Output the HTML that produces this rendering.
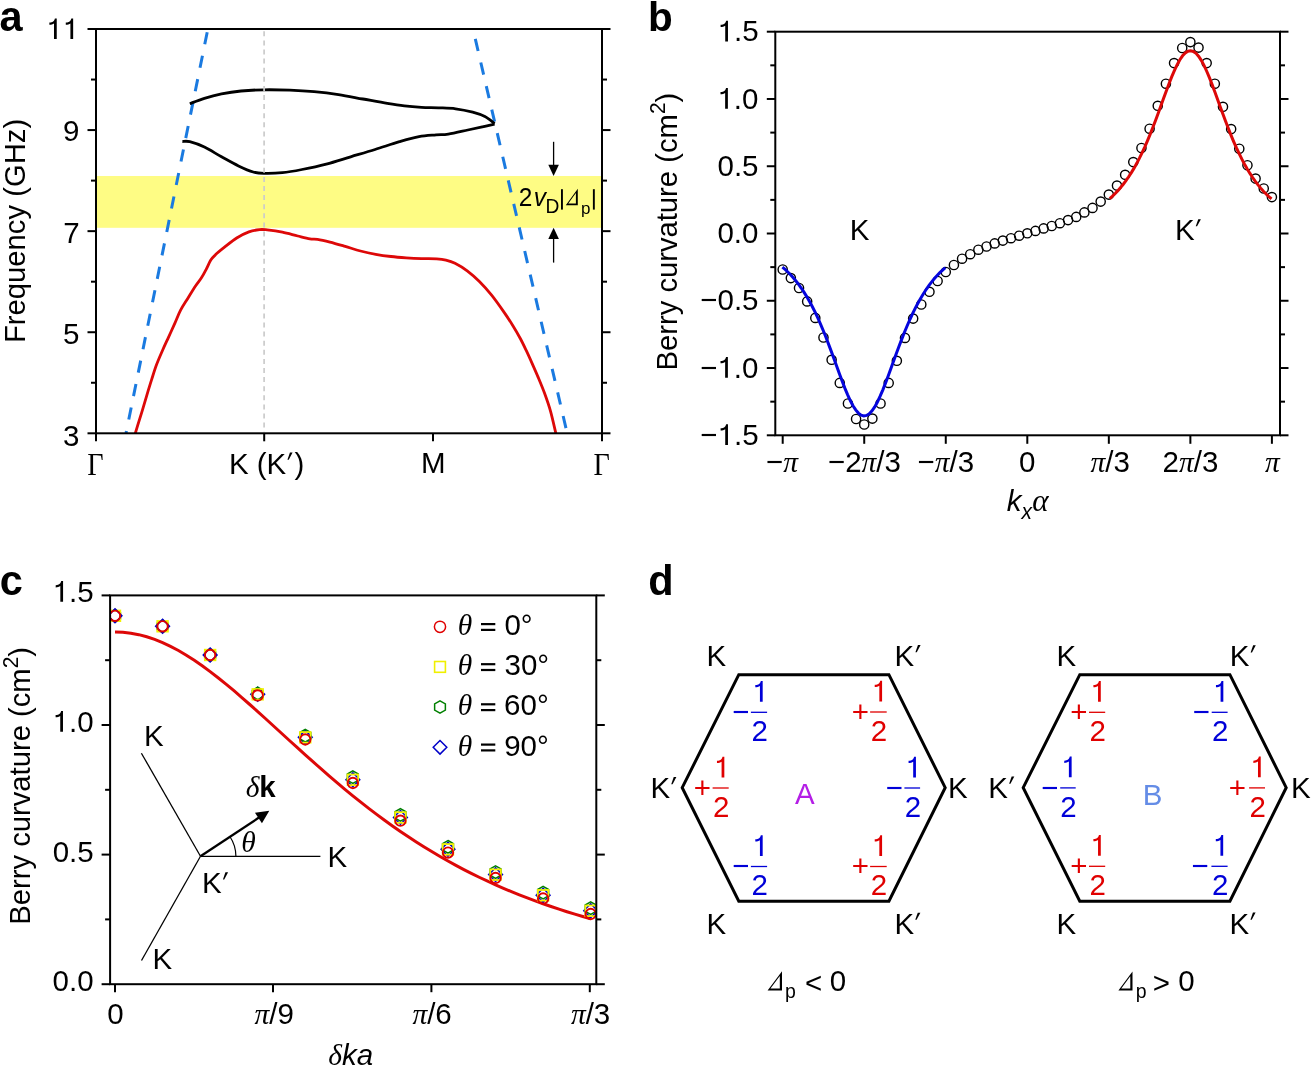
<!DOCTYPE html>
<html><head><meta charset="utf-8"><style>html,body{margin:0;padding:0;background:#fff;width:1312px;height:1067px;overflow:hidden}svg{display:block;will-change:transform;white-space:pre;font-family:"Liberation Sans",sans-serif;font-kerning:none}text{font-kerning:none;white-space:pre}</style></head><body>
<svg width="1312" height="1067" viewBox="0 0 1312 1067" stroke-linecap="butt" xml:space="preserve">
<rect width="1312" height="1067" fill="#fff"/>
<text transform="translate(-0.47,30.60) scale(1.0,1.02)" x="0" y="0" font-size="41.5" font-weight="bold" fill="#000">a</text>
<rect x="96" y="176" width="506" height="51.8" fill="#fefc84"/>
<line x1="207.20" y1="32.25" x2="126.05" y2="433.00" stroke="#1a7ae0" stroke-width="3" stroke-dasharray="12.3,11.63"/>
<line x1="475.30" y1="38.90" x2="567.10" y2="433.00" stroke="#1a7ae0" stroke-width="3" stroke-dasharray="12.4,11.8"/>
<path d="M189.80,103.70 C192.23,102.80 199.12,99.93 204.40,98.30 C209.68,96.67 215.40,95.12 221.50,93.90 C227.60,92.68 233.90,91.68 241.00,91.00 C248.10,90.32 255.97,89.93 264.10,89.80 C272.23,89.67 281.47,89.88 289.80,90.20 C298.13,90.52 305.98,90.97 314.10,91.70 C322.22,92.43 330.37,93.38 338.50,94.60 C346.63,95.82 354.77,97.53 362.90,99.00 C371.03,100.47 380.38,102.25 387.30,103.40 C394.22,104.55 398.70,105.25 404.40,105.90 C410.10,106.55 415.82,106.98 421.50,107.30 C427.18,107.62 432.82,107.55 438.50,107.80 C444.18,108.05 449.90,108.07 455.60,108.80 C461.30,109.53 467.82,110.90 472.70,112.20 C477.58,113.50 481.25,114.70 484.90,116.60 C488.55,118.50 492.98,122.43 494.60,123.60" stroke="#000" stroke-width="2.8" fill="none"/>
<path d="M182.40,141.50 C183.63,141.53 186.13,140.77 189.80,141.70 C193.47,142.63 199.12,144.58 204.40,147.10 C209.68,149.62 215.82,153.67 221.50,156.80 C227.18,159.93 233.22,163.37 238.50,165.90 C243.78,168.43 248.93,170.75 253.20,172.00 C257.47,173.25 259.23,173.28 264.10,173.40 C268.97,173.52 276.08,173.35 282.40,172.70 C288.72,172.05 294.68,170.93 302.00,169.50 C309.32,168.07 318.18,166.22 326.30,164.10 C334.42,161.98 342.57,159.23 350.70,156.80 C358.83,154.37 366.97,152.02 375.10,149.50 C383.23,146.98 392.18,143.85 399.50,141.70 C406.82,139.55 412.90,137.73 419.00,136.60 C425.10,135.47 431.22,135.32 436.10,134.90 C440.98,134.48 443.02,134.92 448.30,134.10 C453.58,133.28 462.12,131.22 467.80,130.00 C473.48,128.78 477.93,127.77 482.40,126.80 C486.87,125.83 492.57,124.63 494.60,124.20" stroke="#000" stroke-width="2.8" fill="none"/>
<path d="M135.20,433.60 C135.72,431.88 137.08,427.25 138.30,423.30 C139.52,419.35 141.08,414.57 142.50,409.90 C143.92,405.23 145.27,400.38 146.80,395.30 C148.33,390.22 150.08,384.48 151.70,379.40 C153.32,374.32 154.68,369.67 156.50,364.80 C158.32,359.93 160.57,354.87 162.60,350.20 C164.63,345.53 166.67,341.27 168.70,336.80 C170.73,332.33 172.82,327.83 174.80,323.40 C176.78,318.97 178.42,314.40 180.60,310.20 C182.78,306.00 185.42,302.23 187.90,298.20 C190.38,294.17 193.22,289.43 195.50,286.00 C197.78,282.57 199.82,280.38 201.60,277.60 C203.38,274.82 204.67,272.22 206.20,269.30 C207.73,266.38 209.27,262.52 210.80,260.10 C212.33,257.68 213.12,256.95 215.40,254.80 C217.68,252.65 220.95,250.00 224.50,247.20 C228.05,244.40 232.63,240.55 236.70,238.00 C240.77,235.45 245.08,233.30 248.90,231.90 C252.72,230.50 256.55,229.93 259.60,229.60 C262.65,229.27 263.40,229.47 267.20,229.90 C271.00,230.33 277.32,231.18 282.40,232.20 C287.48,233.22 293.12,234.90 297.70,236.00 C302.28,237.10 306.60,238.25 309.90,238.80 C313.20,239.35 314.15,238.75 317.50,239.30 C320.85,239.85 325.38,240.92 330.00,242.10 C334.62,243.28 340.12,244.92 345.20,246.40 C350.28,247.88 355.42,249.68 360.50,251.00 C365.58,252.32 370.62,253.38 375.70,254.30 C380.78,255.22 385.92,255.92 391.00,256.50 C396.08,257.08 401.12,257.45 406.20,257.80 C411.28,258.15 416.42,258.42 421.50,258.60 C426.58,258.78 432.63,258.65 436.70,258.90 C440.77,259.15 442.85,259.38 445.90,260.10 C448.95,260.82 451.45,261.42 455.00,263.20 C458.55,264.98 463.13,267.75 467.20,270.80 C471.27,273.85 475.33,277.43 479.40,281.50 C483.47,285.57 487.53,290.13 491.60,295.20 C495.67,300.27 500.25,306.82 503.80,311.90 C507.35,316.98 510.15,321.27 512.90,325.70 C515.65,330.13 518.10,334.42 520.30,338.50 C522.50,342.58 524.12,346.02 526.10,350.20 C528.08,354.38 530.17,359.03 532.20,363.60 C534.23,368.17 536.27,372.73 538.30,377.60 C540.33,382.47 542.37,387.22 544.40,392.80 C546.43,398.38 548.58,404.30 550.50,411.10 C552.42,417.90 555.00,429.85 555.90,433.60" stroke="#dd0808" stroke-width="2.8" fill="none"/>
<line x1="264.10" y1="31.30" x2="264.10" y2="432.30" stroke="#cbcbcb" stroke-width="1.7" stroke-dasharray="5.0,4.1"/>
<rect x="96" y="29" width="506" height="404.3" fill="none" stroke="#000" stroke-width="2"/>
<line x1="87.50" y1="433.30" x2="96.00" y2="433.30" stroke="#000" stroke-width="2"/>
<line x1="602.00" y1="433.30" x2="610.50" y2="433.30" stroke="#000" stroke-width="2"/>
<line x1="91.00" y1="382.76" x2="96.00" y2="382.76" stroke="#000" stroke-width="2"/>
<line x1="602.00" y1="382.76" x2="607.00" y2="382.76" stroke="#000" stroke-width="2"/>
<line x1="87.50" y1="332.23" x2="96.00" y2="332.23" stroke="#000" stroke-width="2"/>
<line x1="602.00" y1="332.23" x2="610.50" y2="332.23" stroke="#000" stroke-width="2"/>
<line x1="91.00" y1="281.69" x2="96.00" y2="281.69" stroke="#000" stroke-width="2"/>
<line x1="602.00" y1="281.69" x2="607.00" y2="281.69" stroke="#000" stroke-width="2"/>
<line x1="87.50" y1="231.15" x2="96.00" y2="231.15" stroke="#000" stroke-width="2"/>
<line x1="602.00" y1="231.15" x2="610.50" y2="231.15" stroke="#000" stroke-width="2"/>
<line x1="91.00" y1="180.61" x2="96.00" y2="180.61" stroke="#000" stroke-width="2"/>
<line x1="602.00" y1="180.61" x2="607.00" y2="180.61" stroke="#000" stroke-width="2"/>
<line x1="87.50" y1="130.07" x2="96.00" y2="130.07" stroke="#000" stroke-width="2"/>
<line x1="602.00" y1="130.07" x2="610.50" y2="130.07" stroke="#000" stroke-width="2"/>
<line x1="91.00" y1="79.54" x2="96.00" y2="79.54" stroke="#000" stroke-width="2"/>
<line x1="602.00" y1="79.54" x2="607.00" y2="79.54" stroke="#000" stroke-width="2"/>
<line x1="87.50" y1="29.00" x2="96.00" y2="29.00" stroke="#000" stroke-width="2"/>
<line x1="602.00" y1="29.00" x2="610.50" y2="29.00" stroke="#000" stroke-width="2"/>
<line x1="96.00" y1="433.30" x2="96.00" y2="441.30" stroke="#000" stroke-width="2"/>
<line x1="264.20" y1="433.30" x2="264.20" y2="441.30" stroke="#000" stroke-width="2"/>
<line x1="433.00" y1="433.30" x2="433.00" y2="441.30" stroke="#000" stroke-width="2"/>
<line x1="602.00" y1="433.30" x2="602.00" y2="441.30" stroke="#000" stroke-width="2"/>
<path d="M0.261,0 L0.354,0 L0.354,0.688 L0.292,0.688 C0.277,0.630 0.248,0.592 0.203,0.572 C0.168,0.557 0.133,0.554 0.104,0.553 L0.104,0.479 C0.160,0.481 0.225,0.492 0.261,0.522 Z" fill="#000" transform="translate(46.30,39.10) scale(29.5,-30.090)"/>
<path d="M0.261,0 L0.354,0 L0.354,0.688 L0.292,0.688 C0.277,0.630 0.248,0.592 0.203,0.572 C0.168,0.557 0.133,0.554 0.104,0.553 L0.104,0.479 C0.160,0.481 0.225,0.492 0.261,0.522 Z" fill="#000" transform="translate(62.71,39.10) scale(29.5,-30.090)"/>
<text transform="translate(63.09,141.25) scale(1.0,1.02)" x="0" y="0" font-size="29.5" fill="#000">9</text>
<text transform="translate(63.18,242.90) scale(1.0,1.02)" x="0" y="0" font-size="29.5" fill="#000">7</text>
<text transform="translate(62.93,344.40) scale(1.0,1.02)" x="0" y="0" font-size="29.5" fill="#000">5</text>
<text transform="translate(62.99,446.30) scale(1.0,1.02)" x="0" y="0" font-size="29.5" fill="#000">3</text>
<text transform="translate(87.19,474.60) scale(0.91,1.02)" x="0" y="0" font-size="31" font-family='"Liberation Serif", serif' fill="#000">Γ</text>
<path d="M0.040,0.46 L0.085,0.46 L0.215,0.70 L0.125,0.70 Z" fill="#000" transform="translate(286.25,473.50) scale(29.5,-30.090)"/>
<text transform="translate(228.88,473.50) scale(1.0,1.02)" x="0.00 19.68 27.87 37.70 57.37 65.63" y="0" font-size="29.5" fill="#000">K (K )</text>
<text transform="translate(421.01,473.30) scale(1.0,1.02)" x="0" y="0" font-size="29.5" fill="#000">M</text>
<text transform="translate(593.59,474.60) scale(0.91,1.02)" x="0" y="0" font-size="31" font-family='"Liberation Serif", serif' fill="#000">Γ</text>
<g transform="translate(25.0,230.6) rotate(-90)">
<text transform="translate(-112.44,0.00) scale(1.0,1.02)" x="0" y="0" font-size="29.25" fill="#000">Frequency (GHz)</text>
</g>
<line x1="553.60" y1="141.80" x2="553.60" y2="166.00" stroke="#000" stroke-width="1.3"/>
<path d="M548.3,164.8 L558.9,164.8 L553.6,176 Z" fill="#000"/>
<line x1="553.60" y1="238.00" x2="553.60" y2="262.60" stroke="#000" stroke-width="1.3"/>
<path d="M548.3,239 L558.9,239 L553.6,227.8 Z" fill="#000"/>
<text transform="translate(518.67,205.60) scale(1.0,1.02)" x="0" y="0" font-size="24.5" fill="#000">2</text>
<text transform="translate(533.76,205.60) scale(1.0,1.02)" x="0" y="0" font-size="24.5" font-style="italic" fill="#000">v</text>
<text transform="translate(545.52,213.40) scale(1.0,1.02)" x="0" y="0" font-size="19.2" fill="#000">D</text>
<rect x="561.0" y="189.2" width="1.9" height="20.4" fill="#000"/>
<path d="M565.80,205.30 L577.80,205.30 L577.80,188.80 Z M568.27,203.60 L575.90,193.11 L575.90,203.60 Z" fill="#000" fill-rule="evenodd"/>
<text transform="translate(580.90,213.60) scale(1.0,1.02)" x="0" y="0" font-size="17" fill="#000">p</text>
<rect x="592.9" y="189.2" width="1.9" height="20.4" fill="#000"/>
<text transform="translate(647.93,30.60) scale(1.0,1.02)" x="0" y="0" font-size="40.5" font-weight="bold" fill="#000">b</text>
<circle cx="782.70" cy="269.50" r="4.6" fill="none" stroke="#000" stroke-width="1.4"/>
<circle cx="790.85" cy="278.10" r="4.6" fill="none" stroke="#000" stroke-width="1.4"/>
<circle cx="799.01" cy="288.00" r="4.6" fill="none" stroke="#000" stroke-width="1.4"/>
<circle cx="807.16" cy="301.40" r="4.6" fill="none" stroke="#000" stroke-width="1.4"/>
<circle cx="815.31" cy="317.90" r="4.6" fill="none" stroke="#000" stroke-width="1.4"/>
<circle cx="823.47" cy="337.50" r="4.6" fill="none" stroke="#000" stroke-width="1.4"/>
<circle cx="831.62" cy="359.80" r="4.6" fill="none" stroke="#000" stroke-width="1.4"/>
<circle cx="839.77" cy="382.90" r="4.6" fill="none" stroke="#000" stroke-width="1.4"/>
<circle cx="847.93" cy="403.50" r="4.6" fill="none" stroke="#000" stroke-width="1.4"/>
<circle cx="856.08" cy="419.00" r="4.6" fill="none" stroke="#000" stroke-width="1.4"/>
<circle cx="864.23" cy="424.50" r="4.6" fill="none" stroke="#000" stroke-width="1.4"/>
<circle cx="872.39" cy="418.60" r="4.6" fill="none" stroke="#000" stroke-width="1.4"/>
<circle cx="880.54" cy="403.50" r="4.6" fill="none" stroke="#000" stroke-width="1.4"/>
<circle cx="888.69" cy="382.90" r="4.6" fill="none" stroke="#000" stroke-width="1.4"/>
<circle cx="896.85" cy="360.80" r="4.6" fill="none" stroke="#000" stroke-width="1.4"/>
<circle cx="905.00" cy="337.90" r="4.6" fill="none" stroke="#000" stroke-width="1.4"/>
<circle cx="913.15" cy="318.60" r="4.6" fill="none" stroke="#000" stroke-width="1.4"/>
<circle cx="921.31" cy="304.50" r="4.6" fill="none" stroke="#000" stroke-width="1.4"/>
<circle cx="929.46" cy="291.80" r="4.6" fill="none" stroke="#000" stroke-width="1.4"/>
<circle cx="937.61" cy="281.00" r="4.6" fill="none" stroke="#000" stroke-width="1.4"/>
<circle cx="945.77" cy="272.00" r="4.6" fill="none" stroke="#000" stroke-width="1.4"/>
<circle cx="953.92" cy="265.00" r="4.6" fill="none" stroke="#000" stroke-width="1.4"/>
<circle cx="962.07" cy="258.70" r="4.6" fill="none" stroke="#000" stroke-width="1.4"/>
<circle cx="970.23" cy="254.20" r="4.6" fill="none" stroke="#000" stroke-width="1.4"/>
<circle cx="978.38" cy="249.70" r="4.6" fill="none" stroke="#000" stroke-width="1.4"/>
<circle cx="986.53" cy="246.50" r="4.6" fill="none" stroke="#000" stroke-width="1.4"/>
<circle cx="994.69" cy="243.40" r="4.6" fill="none" stroke="#000" stroke-width="1.4"/>
<circle cx="1002.84" cy="240.60" r="4.6" fill="none" stroke="#000" stroke-width="1.4"/>
<circle cx="1010.99" cy="238.20" r="4.6" fill="none" stroke="#000" stroke-width="1.4"/>
<circle cx="1019.15" cy="235.70" r="4.6" fill="none" stroke="#000" stroke-width="1.4"/>
<circle cx="1027.30" cy="233.30" r="4.6" fill="none" stroke="#000" stroke-width="1.4"/>
<circle cx="1035.45" cy="230.90" r="4.6" fill="none" stroke="#000" stroke-width="1.4"/>
<circle cx="1043.61" cy="228.40" r="4.6" fill="none" stroke="#000" stroke-width="1.4"/>
<circle cx="1051.76" cy="226.00" r="4.6" fill="none" stroke="#000" stroke-width="1.4"/>
<circle cx="1059.91" cy="223.20" r="4.6" fill="none" stroke="#000" stroke-width="1.4"/>
<circle cx="1068.07" cy="220.10" r="4.6" fill="none" stroke="#000" stroke-width="1.4"/>
<circle cx="1076.22" cy="216.90" r="4.6" fill="none" stroke="#000" stroke-width="1.4"/>
<circle cx="1084.37" cy="212.40" r="4.6" fill="none" stroke="#000" stroke-width="1.4"/>
<circle cx="1092.53" cy="207.90" r="4.6" fill="none" stroke="#000" stroke-width="1.4"/>
<circle cx="1100.68" cy="201.60" r="4.6" fill="none" stroke="#000" stroke-width="1.4"/>
<circle cx="1108.83" cy="194.60" r="4.6" fill="none" stroke="#000" stroke-width="1.4"/>
<circle cx="1116.99" cy="185.60" r="4.6" fill="none" stroke="#000" stroke-width="1.4"/>
<circle cx="1125.14" cy="174.80" r="4.6" fill="none" stroke="#000" stroke-width="1.4"/>
<circle cx="1133.29" cy="162.10" r="4.6" fill="none" stroke="#000" stroke-width="1.4"/>
<circle cx="1141.45" cy="148.00" r="4.6" fill="none" stroke="#000" stroke-width="1.4"/>
<circle cx="1149.60" cy="128.70" r="4.6" fill="none" stroke="#000" stroke-width="1.4"/>
<circle cx="1157.75" cy="105.80" r="4.6" fill="none" stroke="#000" stroke-width="1.4"/>
<circle cx="1165.91" cy="83.70" r="4.6" fill="none" stroke="#000" stroke-width="1.4"/>
<circle cx="1174.06" cy="63.10" r="4.6" fill="none" stroke="#000" stroke-width="1.4"/>
<circle cx="1182.21" cy="48.00" r="4.6" fill="none" stroke="#000" stroke-width="1.4"/>
<circle cx="1190.37" cy="42.10" r="4.6" fill="none" stroke="#000" stroke-width="1.4"/>
<circle cx="1198.52" cy="47.60" r="4.6" fill="none" stroke="#000" stroke-width="1.4"/>
<circle cx="1206.67" cy="63.10" r="4.6" fill="none" stroke="#000" stroke-width="1.4"/>
<circle cx="1214.83" cy="83.70" r="4.6" fill="none" stroke="#000" stroke-width="1.4"/>
<circle cx="1222.98" cy="106.80" r="4.6" fill="none" stroke="#000" stroke-width="1.4"/>
<circle cx="1231.13" cy="129.10" r="4.6" fill="none" stroke="#000" stroke-width="1.4"/>
<circle cx="1239.29" cy="148.70" r="4.6" fill="none" stroke="#000" stroke-width="1.4"/>
<circle cx="1247.44" cy="165.20" r="4.6" fill="none" stroke="#000" stroke-width="1.4"/>
<circle cx="1255.59" cy="178.60" r="4.6" fill="none" stroke="#000" stroke-width="1.4"/>
<circle cx="1263.75" cy="188.50" r="4.6" fill="none" stroke="#000" stroke-width="1.4"/>
<circle cx="1271.90" cy="197.10" r="4.6" fill="none" stroke="#000" stroke-width="1.4"/>
<path d="M782.40,267.06 L785.12,269.42 L787.83,271.98 L790.54,274.75 L793.26,277.74 L795.98,280.98 L798.69,284.48 L801.40,288.26 L804.12,292.34 L806.83,296.73 L809.55,301.46 L812.26,306.52 L814.98,311.94 L817.69,317.70 L820.41,323.82 L823.12,330.28 L825.84,337.05 L828.55,344.10 L831.27,351.37 L833.99,358.81 L836.70,366.31 L839.41,373.77 L842.13,381.07 L844.84,388.07 L847.56,394.62 L850.27,400.54 L852.99,405.69 L855.70,409.92 L858.42,413.09 L861.13,415.10 L863.85,415.89 L866.56,415.42 L869.28,413.72 L872.00,410.84 L874.71,406.88 L877.42,401.95 L880.14,396.21 L882.86,389.81 L885.57,382.91 L888.28,375.68 L891.00,368.24 L893.71,360.74 L896.43,353.28 L899.14,345.96 L901.86,338.84 L904.57,332.00 L907.29,325.46 L910.00,319.25 L912.72,313.39 L915.43,307.88 L918.15,302.73 L920.87,297.92 L923.58,293.44 L926.29,289.28 L929.01,285.43 L931.72,281.86 L934.44,278.55 L937.15,275.50 L939.87,272.67 L942.58,270.06 L945.30,267.65" stroke="#0505dd" stroke-width="3" fill="none"/>
<path d="M1109.80,198.52 L1112.49,196.09 L1115.19,193.47 L1117.88,190.63 L1120.58,187.55 L1123.27,184.24 L1125.97,180.65 L1128.66,176.78 L1131.36,172.62 L1134.06,168.13 L1136.75,163.32 L1139.44,158.17 L1142.14,152.66 L1144.84,146.82 L1147.53,140.63 L1150.22,134.11 L1152.92,127.29 L1155.62,120.22 L1158.31,112.94 L1161.00,105.53 L1163.70,98.08 L1166.39,90.71 L1169.09,83.53 L1171.79,76.69 L1174.48,70.34 L1177.17,64.65 L1179.87,59.76 L1182.57,55.81 L1185.26,52.93 L1187.95,51.21 L1190.65,50.71 L1193.35,51.44 L1196.04,53.38 L1198.73,56.46 L1201.43,60.60 L1204.12,65.65 L1206.82,71.48 L1209.51,77.93 L1212.21,84.84 L1214.90,92.06 L1217.60,99.46 L1220.30,106.91 L1222.99,114.30 L1225.68,121.55 L1228.38,128.58 L1231.08,135.34 L1233.77,141.80 L1236.46,147.93 L1239.16,153.71 L1241.86,159.15 L1244.55,164.24 L1247.24,168.99 L1249.94,173.41 L1252.63,177.52 L1255.33,181.34 L1258.03,184.87 L1260.72,188.14 L1263.41,191.17 L1266.11,193.97 L1268.81,196.56 L1271.50,198.95" stroke="#dd0808" stroke-width="3" fill="none"/>
<rect x="775.3" y="31.7" width="504.70000000000005" height="403.6" fill="none" stroke="#000" stroke-width="2"/>
<line x1="766.80" y1="435.30" x2="775.30" y2="435.30" stroke="#000" stroke-width="2"/>
<line x1="1280.00" y1="435.30" x2="1288.50" y2="435.30" stroke="#000" stroke-width="2"/>
<line x1="770.30" y1="401.66" x2="775.30" y2="401.66" stroke="#000" stroke-width="2"/>
<line x1="1280.00" y1="401.66" x2="1285.00" y2="401.66" stroke="#000" stroke-width="2"/>
<line x1="766.80" y1="368.03" x2="775.30" y2="368.03" stroke="#000" stroke-width="2"/>
<line x1="1280.00" y1="368.03" x2="1288.50" y2="368.03" stroke="#000" stroke-width="2"/>
<line x1="770.30" y1="334.40" x2="775.30" y2="334.40" stroke="#000" stroke-width="2"/>
<line x1="1280.00" y1="334.40" x2="1285.00" y2="334.40" stroke="#000" stroke-width="2"/>
<line x1="766.80" y1="300.76" x2="775.30" y2="300.76" stroke="#000" stroke-width="2"/>
<line x1="1280.00" y1="300.76" x2="1288.50" y2="300.76" stroke="#000" stroke-width="2"/>
<line x1="770.30" y1="267.13" x2="775.30" y2="267.13" stroke="#000" stroke-width="2"/>
<line x1="1280.00" y1="267.13" x2="1285.00" y2="267.13" stroke="#000" stroke-width="2"/>
<line x1="766.80" y1="233.50" x2="775.30" y2="233.50" stroke="#000" stroke-width="2"/>
<line x1="1280.00" y1="233.50" x2="1288.50" y2="233.50" stroke="#000" stroke-width="2"/>
<line x1="770.30" y1="199.87" x2="775.30" y2="199.87" stroke="#000" stroke-width="2"/>
<line x1="1280.00" y1="199.87" x2="1285.00" y2="199.87" stroke="#000" stroke-width="2"/>
<line x1="766.80" y1="166.24" x2="775.30" y2="166.24" stroke="#000" stroke-width="2"/>
<line x1="1280.00" y1="166.24" x2="1288.50" y2="166.24" stroke="#000" stroke-width="2"/>
<line x1="770.30" y1="132.60" x2="775.30" y2="132.60" stroke="#000" stroke-width="2"/>
<line x1="1280.00" y1="132.60" x2="1285.00" y2="132.60" stroke="#000" stroke-width="2"/>
<line x1="766.80" y1="98.97" x2="775.30" y2="98.97" stroke="#000" stroke-width="2"/>
<line x1="1280.00" y1="98.97" x2="1288.50" y2="98.97" stroke="#000" stroke-width="2"/>
<line x1="770.30" y1="65.34" x2="775.30" y2="65.34" stroke="#000" stroke-width="2"/>
<line x1="1280.00" y1="65.34" x2="1285.00" y2="65.34" stroke="#000" stroke-width="2"/>
<line x1="766.80" y1="31.70" x2="775.30" y2="31.70" stroke="#000" stroke-width="2"/>
<line x1="1280.00" y1="31.70" x2="1288.50" y2="31.70" stroke="#000" stroke-width="2"/>
<line x1="782.70" y1="435.30" x2="782.70" y2="443.80" stroke="#000" stroke-width="2"/>
<line x1="864.23" y1="435.30" x2="864.23" y2="443.80" stroke="#000" stroke-width="2"/>
<line x1="945.77" y1="435.30" x2="945.77" y2="443.80" stroke="#000" stroke-width="2"/>
<line x1="1027.30" y1="435.30" x2="1027.30" y2="443.80" stroke="#000" stroke-width="2"/>
<line x1="1108.83" y1="435.30" x2="1108.83" y2="443.80" stroke="#000" stroke-width="2"/>
<line x1="1190.37" y1="435.30" x2="1190.37" y2="443.80" stroke="#000" stroke-width="2"/>
<line x1="1271.90" y1="435.30" x2="1271.90" y2="443.80" stroke="#000" stroke-width="2"/>
<path d="M0.261,0 L0.354,0 L0.354,0.688 L0.292,0.688 C0.277,0.630 0.248,0.592 0.203,0.572 C0.168,0.557 0.133,0.554 0.104,0.553 L0.104,0.479 C0.160,0.481 0.225,0.492 0.261,0.522 Z" fill="#000" transform="translate(717.53,41.40) scale(29.5,-30.090)"/>
<text transform="translate(717.53,41.40) scale(1.0,1.02)" x="0.00 16.41 24.60" y="0" font-size="29.5" fill="#000"> .5</text>
<path d="M0.261,0 L0.354,0 L0.354,0.688 L0.292,0.688 C0.277,0.630 0.248,0.592 0.203,0.572 C0.168,0.557 0.133,0.554 0.104,0.553 L0.104,0.479 C0.160,0.481 0.225,0.492 0.261,0.522 Z" fill="#000" transform="translate(717.44,108.67) scale(29.5,-30.090)"/>
<text transform="translate(717.44,108.67) scale(1.0,1.02)" x="0.00 16.41 24.60" y="0" font-size="29.5" fill="#000"> .0</text>
<text transform="translate(717.53,175.94) scale(1.0,1.02)" x="0" y="0" font-size="29.5" fill="#000">0.5</text>
<text transform="translate(717.44,243.20) scale(1.0,1.02)" x="0" y="0" font-size="29.5" fill="#000">0.0</text>
<text transform="translate(700.30,310.46) scale(1.0,1.02)" x="0" y="0" font-size="29.5" fill="#000">−0.5</text>
<path d="M0.261,0 L0.354,0 L0.354,0.688 L0.292,0.688 C0.277,0.630 0.248,0.592 0.203,0.572 C0.168,0.557 0.133,0.554 0.104,0.553 L0.104,0.479 C0.160,0.481 0.225,0.492 0.261,0.522 Z" fill="#000" transform="translate(717.44,377.73) scale(29.5,-30.090)"/>
<text transform="translate(700.22,377.73) scale(1.0,1.02)" x="0.00 17.23 33.63 41.83" y="0" font-size="29.5" fill="#000">− .0</text>
<path d="M0.261,0 L0.354,0 L0.354,0.688 L0.292,0.688 C0.277,0.630 0.248,0.592 0.203,0.572 C0.168,0.557 0.133,0.554 0.104,0.553 L0.104,0.479 C0.160,0.481 0.225,0.492 0.261,0.522 Z" fill="#000" transform="translate(717.53,445.00) scale(29.5,-30.090)"/>
<text transform="translate(700.30,445.00) scale(1.0,1.02)" x="0.00 17.23 33.63 41.83" y="0" font-size="29.5" fill="#000">− .5</text>
<text transform="translate(766.03,471.60) scale(1.0,1.02)" x="0" y="0" font-size="29.5" fill="#000">−</text>
<text transform="translate(783.26,471.60) scale(1.0,1.02)" x="0" y="0" font-size="29.5" font-style="italic" font-family='"Liberation Serif", serif' fill="#000">π</text>
<text transform="translate(827.91,471.60) scale(1.0,1.02)" x="0" y="0" font-size="29.5" fill="#000">−2</text>
<text transform="translate(861.55,471.60) scale(1.0,1.02)" x="0" y="0" font-size="29.5" font-style="italic" font-family='"Liberation Serif", serif' fill="#000">π</text>
<text transform="translate(876.33,471.60) scale(1.0,1.02)" x="0" y="0" font-size="29.5" fill="#000">/3</text>
<text transform="translate(917.62,471.60) scale(1.0,1.02)" x="0" y="0" font-size="29.5" fill="#000">−</text>
<text transform="translate(934.84,471.60) scale(1.0,1.02)" x="0" y="0" font-size="29.5" font-style="italic" font-family='"Liberation Serif", serif' fill="#000">π</text>
<text transform="translate(949.62,471.60) scale(1.0,1.02)" x="0" y="0" font-size="29.5" fill="#000">/3</text>
<text transform="translate(1019.10,471.60) scale(1.0,1.02)" x="0" y="0" font-size="29.5" fill="#000">0</text>
<text transform="translate(1090.48,471.60) scale(1.0,1.02)" x="0" y="0" font-size="29.5" font-style="italic" font-family='"Liberation Serif", serif' fill="#000">π</text>
<text transform="translate(1105.26,471.60) scale(1.0,1.02)" x="0" y="0" font-size="29.5" fill="#000">/3</text>
<text transform="translate(1162.61,471.60) scale(1.0,1.02)" x="0" y="0" font-size="29.5" fill="#000">2</text>
<text transform="translate(1179.02,471.60) scale(1.0,1.02)" x="0" y="0" font-size="29.5" font-style="italic" font-family='"Liberation Serif", serif' fill="#000">π</text>
<text transform="translate(1193.80,471.60) scale(1.0,1.02)" x="0" y="0" font-size="29.5" fill="#000">/3</text>
<text transform="translate(1264.99,471.60) scale(1.0,1.02)" x="0" y="0" font-size="29.5" font-style="italic" font-family='"Liberation Serif", serif' fill="#000">π</text>
<text transform="translate(1006.71,510.50) scale(1.0,1.02)" x="0" y="0" font-size="29.5" font-style="italic" fill="#000">k</text>
<text transform="translate(1021.46,519.00) scale(1.0,1.02)" x="0" y="0" font-size="21" font-style="italic" fill="#000">x</text>
<text transform="translate(1032.28,510.90) scale(1.0,1.02)" x="0" y="0" font-size="31" font-style="italic" font-family='"Liberation Serif", serif' fill="#000">α</text>
<g transform="translate(676.8,231.3) rotate(-90)">
<text transform="translate(-139.17,0.00) scale(1.0,1.02)" x="0" y="0" font-size="29.2" fill="#000">Berry curvature (cm</text>
<text transform="translate(117.18,-11.80) scale(1.0,1.02)" x="0" y="0" font-size="21" fill="#000">2</text>
<text transform="translate(128.86,0.00) scale(1.0,1.02)" x="0" y="0" font-size="29.2" fill="#000">)</text>
</g>
<text transform="translate(849.78,240.20) scale(1.0,1.02)" x="0" y="0" font-size="29.5" fill="#000">K</text>
<path d="M0.040,0.46 L0.085,0.46 L0.215,0.70 L0.125,0.70 Z" fill="#000" transform="translate(1194.56,240.20) scale(29.5,-30.090)"/>
<text transform="translate(1174.88,240.20) scale(1.0,1.02)" x="0.00 19.68" y="0" font-size="29.5" fill="#000">K </text>
<text transform="translate(-0.32,595.30) scale(1.0,1.02)" x="0" y="0" font-size="41.5" font-weight="bold" fill="#000">c</text>
<path d="M115.00,631.95 L122.93,632.25 L130.86,633.16 L138.78,634.66 L146.71,636.75 L154.64,639.41 L162.57,642.61 L170.50,646.33 L178.43,650.54 L186.36,655.20 L194.28,660.29 L202.21,665.76 L210.14,671.58 L218.07,677.70 L226.00,684.09 L233.93,690.72 L241.85,697.53 L249.78,704.50 L257.71,711.59 L265.64,718.76 L273.57,725.99 L281.50,733.24 L289.42,740.49 L297.35,747.71 L305.28,754.87 L313.21,761.97 L321.14,768.97 L329.07,775.87 L336.99,782.64 L344.92,789.28 L352.85,795.79 L360.78,802.13 L368.71,808.33 L376.64,814.36 L384.56,820.22 L392.49,825.91 L400.42,831.43 L408.35,836.78 L416.28,841.96 L424.21,846.97 L432.13,851.82 L440.06,856.49 L447.99,861.00 L455.92,865.36 L463.85,869.55 L471.78,873.59 L479.70,877.49 L487.63,881.23 L495.56,884.84 L503.49,888.31 L511.42,891.65 L519.35,894.87 L527.27,897.95 L535.20,900.92 L543.13,903.78 L551.06,906.52 L558.99,909.16 L566.91,911.70 L574.84,914.13 L582.77,916.48 L590.70,918.73" stroke="#dd0808" stroke-width="3" fill="none"/>
<clipPath id="clipc"><rect x="110.1" y="595.4" width="486.2" height="388.8"/></clipPath><g clip-path="url(#clipc)">
<path d="M115.00,609.50 L120.46,612.65 L120.46,618.95 L115.00,622.10 L109.54,618.95 L109.54,612.65 Z" fill="none" stroke="#008000" stroke-width="1.5"/>
<rect x="109.70" y="610.50" width="10.6" height="10.6" fill="none" stroke="#f2f200" stroke-width="1.8"/>
<path d="M115.00,608.90 L121.90,615.80 L115.00,622.70 L108.10,615.80 Z" fill="none" stroke="#0000c8" stroke-width="1.5"/>
<circle cx="115.00" cy="615.80" r="5.2" fill="none" stroke="#e00000" stroke-width="1.9"/>
<path d="M162.57,620.00 L168.03,623.15 L168.03,629.45 L162.57,632.60 L157.11,629.45 L157.11,623.15 Z" fill="none" stroke="#008000" stroke-width="1.5"/>
<rect x="157.27" y="621.00" width="10.6" height="10.6" fill="none" stroke="#f2f200" stroke-width="1.8"/>
<path d="M162.57,619.40 L169.47,626.30 L162.57,633.20 L155.67,626.30 Z" fill="none" stroke="#0000c8" stroke-width="1.5"/>
<circle cx="162.57" cy="626.30" r="5.2" fill="none" stroke="#e00000" stroke-width="1.9"/>
<path d="M210.14,648.70 L215.60,651.85 L215.60,658.15 L210.14,661.30 L204.68,658.15 L204.68,651.85 Z" fill="none" stroke="#008000" stroke-width="1.5"/>
<rect x="204.84" y="649.70" width="10.6" height="10.6" fill="none" stroke="#f2f200" stroke-width="1.8"/>
<path d="M210.14,648.10 L217.04,655.00 L210.14,661.90 L203.24,655.00 Z" fill="none" stroke="#0000c8" stroke-width="1.5"/>
<circle cx="210.14" cy="655.00" r="5.2" fill="none" stroke="#e00000" stroke-width="1.9"/>
<path d="M257.71,687.40 L264.61,694.30 L257.71,701.20 L250.81,694.30 Z" fill="none" stroke="#0000c8" stroke-width="1.5"/>
<path d="M257.71,687.17 L263.17,690.32 L263.17,696.62 L257.71,699.77 L252.25,696.62 L252.25,690.32 Z" fill="none" stroke="#008000" stroke-width="1.5"/>
<rect x="252.41" y="689.03" width="10.6" height="10.6" fill="none" stroke="#f2f200" stroke-width="1.8"/>
<circle cx="257.71" cy="695.40" r="5.2" fill="none" stroke="#e00000" stroke-width="1.9"/>
<path d="M305.28,730.40 L312.18,737.30 L305.28,744.20 L298.38,737.30 Z" fill="none" stroke="#0000c8" stroke-width="1.5"/>
<path d="M305.28,729.33 L310.74,732.48 L310.74,738.78 L305.28,741.93 L299.82,738.78 L299.82,732.48 Z" fill="none" stroke="#008000" stroke-width="1.5"/>
<rect x="299.98" y="732.07" width="10.6" height="10.6" fill="none" stroke="#f2f200" stroke-width="1.8"/>
<circle cx="305.28" cy="739.50" r="5.2" fill="none" stroke="#e00000" stroke-width="1.9"/>
<path d="M352.85,772.80 L359.75,779.70 L352.85,786.60 L345.95,779.70 Z" fill="none" stroke="#0000c8" stroke-width="1.5"/>
<path d="M352.85,770.90 L358.31,774.05 L358.31,780.35 L352.85,783.50 L347.39,780.35 L347.39,774.05 Z" fill="none" stroke="#008000" stroke-width="1.5"/>
<rect x="347.55" y="774.50" width="10.6" height="10.6" fill="none" stroke="#f2f200" stroke-width="1.8"/>
<circle cx="352.85" cy="783.00" r="5.2" fill="none" stroke="#e00000" stroke-width="1.9"/>
<path d="M400.42,810.50 L407.32,817.40 L400.42,824.30 L393.52,817.40 Z" fill="none" stroke="#0000c8" stroke-width="1.5"/>
<path d="M400.42,808.60 L405.88,811.75 L405.88,818.05 L400.42,821.20 L394.96,818.05 L394.96,811.75 Z" fill="none" stroke="#008000" stroke-width="1.5"/>
<rect x="395.12" y="812.20" width="10.6" height="10.6" fill="none" stroke="#f2f200" stroke-width="1.8"/>
<circle cx="400.42" cy="820.70" r="5.2" fill="none" stroke="#e00000" stroke-width="1.9"/>
<path d="M447.99,842.40 L454.89,849.30 L447.99,856.20 L441.09,849.30 Z" fill="none" stroke="#0000c8" stroke-width="1.5"/>
<path d="M447.99,840.50 L453.45,843.65 L453.45,849.95 L447.99,853.10 L442.53,849.95 L442.53,843.65 Z" fill="none" stroke="#008000" stroke-width="1.5"/>
<rect x="442.69" y="844.10" width="10.6" height="10.6" fill="none" stroke="#f2f200" stroke-width="1.8"/>
<circle cx="447.99" cy="852.60" r="5.2" fill="none" stroke="#e00000" stroke-width="1.9"/>
<path d="M495.56,867.70 L502.46,874.60 L495.56,881.50 L488.66,874.60 Z" fill="none" stroke="#0000c8" stroke-width="1.5"/>
<path d="M495.56,865.80 L501.02,868.95 L501.02,875.25 L495.56,878.40 L490.10,875.25 L490.10,868.95 Z" fill="none" stroke="#008000" stroke-width="1.5"/>
<rect x="490.26" y="869.40" width="10.6" height="10.6" fill="none" stroke="#f2f200" stroke-width="1.8"/>
<circle cx="495.56" cy="877.90" r="5.2" fill="none" stroke="#e00000" stroke-width="1.9"/>
<path d="M543.13,888.30 L550.03,895.20 L543.13,902.10 L536.23,895.20 Z" fill="none" stroke="#0000c8" stroke-width="1.5"/>
<path d="M543.13,886.40 L548.59,889.55 L548.59,895.85 L543.13,899.00 L537.67,895.85 L537.67,889.55 Z" fill="none" stroke="#008000" stroke-width="1.5"/>
<rect x="537.83" y="890.00" width="10.6" height="10.6" fill="none" stroke="#f2f200" stroke-width="1.8"/>
<circle cx="543.13" cy="898.50" r="5.2" fill="none" stroke="#e00000" stroke-width="1.9"/>
<path d="M590.70,903.80 L597.60,910.70 L590.70,917.60 L583.80,910.70 Z" fill="none" stroke="#0000c8" stroke-width="1.5"/>
<path d="M590.70,901.90 L596.16,905.05 L596.16,911.35 L590.70,914.50 L585.24,911.35 L585.24,905.05 Z" fill="none" stroke="#008000" stroke-width="1.5"/>
<rect x="585.40" y="905.50" width="10.6" height="10.6" fill="none" stroke="#f2f200" stroke-width="1.8"/>
<circle cx="590.70" cy="914.00" r="5.2" fill="none" stroke="#e00000" stroke-width="1.9"/>
</g>
<rect x="110.1" y="595.4" width="486.19999999999993" height="388.80000000000007" fill="none" stroke="#000" stroke-width="2"/>
<line x1="101.60" y1="984.20" x2="110.10" y2="984.20" stroke="#000" stroke-width="2"/>
<line x1="596.30" y1="984.20" x2="604.80" y2="984.20" stroke="#000" stroke-width="2"/>
<line x1="105.10" y1="919.40" x2="110.10" y2="919.40" stroke="#000" stroke-width="2"/>
<line x1="596.30" y1="919.40" x2="601.30" y2="919.40" stroke="#000" stroke-width="2"/>
<line x1="101.60" y1="854.60" x2="110.10" y2="854.60" stroke="#000" stroke-width="2"/>
<line x1="596.30" y1="854.60" x2="604.80" y2="854.60" stroke="#000" stroke-width="2"/>
<line x1="105.10" y1="789.80" x2="110.10" y2="789.80" stroke="#000" stroke-width="2"/>
<line x1="596.30" y1="789.80" x2="601.30" y2="789.80" stroke="#000" stroke-width="2"/>
<line x1="101.60" y1="725.00" x2="110.10" y2="725.00" stroke="#000" stroke-width="2"/>
<line x1="596.30" y1="725.00" x2="604.80" y2="725.00" stroke="#000" stroke-width="2"/>
<line x1="105.10" y1="660.20" x2="110.10" y2="660.20" stroke="#000" stroke-width="2"/>
<line x1="596.30" y1="660.20" x2="601.30" y2="660.20" stroke="#000" stroke-width="2"/>
<line x1="101.60" y1="595.40" x2="110.10" y2="595.40" stroke="#000" stroke-width="2"/>
<line x1="596.30" y1="595.40" x2="604.80" y2="595.40" stroke="#000" stroke-width="2"/>
<line x1="115.00" y1="984.20" x2="115.00" y2="992.20" stroke="#000" stroke-width="2"/>
<line x1="273.00" y1="984.20" x2="273.00" y2="992.20" stroke="#000" stroke-width="2"/>
<line x1="431.40" y1="984.20" x2="431.40" y2="992.20" stroke="#000" stroke-width="2"/>
<line x1="589.80" y1="984.20" x2="589.80" y2="992.20" stroke="#000" stroke-width="2"/>
<path d="M0.261,0 L0.354,0 L0.354,0.688 L0.292,0.688 C0.277,0.630 0.248,0.592 0.203,0.572 C0.168,0.557 0.133,0.554 0.104,0.553 L0.104,0.479 C0.160,0.481 0.225,0.492 0.261,0.522 Z" fill="#000" transform="translate(52.63,601.80) scale(29.5,-30.090)"/>
<text transform="translate(52.63,601.80) scale(1.0,1.02)" x="0.00 16.41 24.60" y="0" font-size="29.5" fill="#000"> .5</text>
<path d="M0.261,0 L0.354,0 L0.354,0.688 L0.292,0.688 C0.277,0.630 0.248,0.592 0.203,0.572 C0.168,0.557 0.133,0.554 0.104,0.553 L0.104,0.479 C0.160,0.481 0.225,0.492 0.261,0.522 Z" fill="#000" transform="translate(52.54,731.70) scale(29.5,-30.090)"/>
<text transform="translate(52.54,731.70) scale(1.0,1.02)" x="0.00 16.41 24.60" y="0" font-size="29.5" fill="#000"> .0</text>
<text transform="translate(52.63,861.80) scale(1.0,1.02)" x="0" y="0" font-size="29.5" fill="#000">0.5</text>
<text transform="translate(52.54,990.90) scale(1.0,1.02)" x="0" y="0" font-size="29.5" fill="#000">0.0</text>
<text transform="translate(107.30,1024.10) scale(1.0,1.02)" x="0" y="0" font-size="29.5" fill="#000">0</text>
<text transform="translate(254.43,1024.10) scale(1.0,1.02)" x="0" y="0" font-size="29.5" font-style="italic" font-family='"Liberation Serif", serif' fill="#000">π</text>
<text transform="translate(269.21,1024.10) scale(1.0,1.02)" x="0" y="0" font-size="29.5" fill="#000">/9</text>
<text transform="translate(412.38,1024.10) scale(1.0,1.02)" x="0" y="0" font-size="29.5" font-style="italic" font-family='"Liberation Serif", serif' fill="#000">π</text>
<text transform="translate(427.16,1024.10) scale(1.0,1.02)" x="0" y="0" font-size="29.5" fill="#000">/6</text>
<text transform="translate(570.88,1024.10) scale(1.0,1.02)" x="0" y="0" font-size="29.5" font-style="italic" font-family='"Liberation Serif", serif' fill="#000">π</text>
<text transform="translate(585.66,1024.10) scale(1.0,1.02)" x="0" y="0" font-size="29.5" fill="#000">/3</text>
<text transform="translate(328.24,1065.30) scale(1.0,1.02)" x="0" y="0" font-size="29.5" font-style="italic" font-family='"Liberation Serif", serif' fill="#000">δ</text>
<text transform="translate(341.95,1065.30) scale(1.0,1.02)" x="0" y="0" font-size="29.5" font-style="italic" fill="#000">ka</text>
<g transform="translate(29.5,785.5) rotate(-90)">
<text transform="translate(-139.17,0.00) scale(1.0,1.02)" x="0" y="0" font-size="29.2" fill="#000">Berry curvature (cm</text>
<text transform="translate(117.18,-11.80) scale(1.0,1.02)" x="0" y="0" font-size="21" fill="#000">2</text>
<text transform="translate(128.86,0.00) scale(1.0,1.02)" x="0" y="0" font-size="29.2" fill="#000">)</text>
</g>
<circle cx="440" cy="626.8" r="5.6" fill="none" stroke="#e00000" stroke-width="1.5"/>
<rect x="434.6" y="661.5" width="10.8" height="10.8" fill="none" stroke="#f0f000" stroke-width="1.6"/>
<path d="M440.00,700.80 L445.37,703.90 L445.37,710.10 L440.00,713.20 L434.63,710.10 L434.63,703.90 Z" fill="none" stroke="#008000" stroke-width="1.5"/>
<path d="M440,740.5 L446.8,747.3 L440,754.0999999999999 L433.2,747.3 Z" fill="none" stroke="#0000c8" stroke-width="1.5"/>
<text transform="translate(457.76,635.00) scale(1.0,1.02)" x="0" y="0" font-size="29.5" font-style="italic" font-family='"Liberation Serif", serif' fill="#000">θ</text>
<rect x="481.0" y="623.00" width="14.3" height="2.2" fill="#000"/>
<rect x="481.0" y="628.80" width="14.3" height="2.2" fill="#000"/>
<text transform="translate(504.45,635.00) scale(1.0,1.02)" x="0" y="0" font-size="29.5" fill="#000">0°</text>
<text transform="translate(457.76,675.10) scale(1.0,1.02)" x="0" y="0" font-size="29.5" font-style="italic" font-family='"Liberation Serif", serif' fill="#000">θ</text>
<rect x="481.0" y="663.10" width="14.3" height="2.2" fill="#000"/>
<rect x="481.0" y="668.90" width="14.3" height="2.2" fill="#000"/>
<text transform="translate(504.48,675.10) scale(1.0,1.02)" x="0" y="0" font-size="29.5" fill="#000">30°</text>
<text transform="translate(457.76,715.20) scale(1.0,1.02)" x="0" y="0" font-size="29.5" font-style="italic" font-family='"Liberation Serif", serif' fill="#000">θ</text>
<rect x="481.0" y="703.20" width="14.3" height="2.2" fill="#000"/>
<rect x="481.0" y="709.00" width="14.3" height="2.2" fill="#000"/>
<text transform="translate(504.10,715.20) scale(1.0,1.02)" x="0" y="0" font-size="29.5" fill="#000">60°</text>
<text transform="translate(457.76,755.50) scale(1.0,1.02)" x="0" y="0" font-size="29.5" font-style="italic" font-family='"Liberation Serif", serif' fill="#000">θ</text>
<rect x="481.0" y="743.50" width="14.3" height="2.2" fill="#000"/>
<rect x="481.0" y="749.30" width="14.3" height="2.2" fill="#000"/>
<text transform="translate(504.22,755.50) scale(1.0,1.02)" x="0" y="0" font-size="29.5" fill="#000">90°</text>
<line x1="200.50" y1="856.30" x2="141.40" y2="753.20" stroke="#000" stroke-width="1.3"/>
<line x1="200.50" y1="856.30" x2="320.40" y2="856.30" stroke="#000" stroke-width="1.3"/>
<line x1="200.50" y1="856.30" x2="141.50" y2="960.50" stroke="#000" stroke-width="1.3"/>
<line x1="200.50" y1="856.30" x2="259.30" y2="817.33" stroke="#000" stroke-width="2.3"/>
<path d="M269.30,810.70 L261.94,823.13 L254.98,812.63 Z" fill="#000"/>
<path d="M235.90,856.30 A35.4,35.4 0 0 0 230.01,836.74" fill="none" stroke="#000" stroke-width="1.2"/>
<text transform="translate(241.26,851.70) scale(1.0,1.02)" x="0" y="0" font-size="29.5" font-style="italic" font-family='"Liberation Serif", serif' fill="#000">θ</text>
<text transform="translate(245.64,797.30) scale(1.0,1.02)" x="0" y="0" font-size="29.5" font-style="italic" font-family='"Liberation Serif", serif' fill="#000">δ</text>
<text transform="translate(259.35,797.30) scale(1.0,1.02)" x="0" y="0" font-size="29.5" font-weight="bold" fill="#000">k</text>
<text transform="translate(143.98,745.80) scale(1.0,1.02)" x="0" y="0" font-size="29.5" fill="#000">K</text>
<text transform="translate(327.58,866.50) scale(1.0,1.02)" x="0" y="0" font-size="29.5" fill="#000">K</text>
<path d="M0.040,0.46 L0.085,0.46 L0.215,0.70 L0.125,0.70 Z" fill="#000" transform="translate(221.76,893.40) scale(29.5,-30.090)"/>
<text transform="translate(202.08,893.40) scale(1.0,1.02)" x="0.00 19.68" y="0" font-size="29.5" fill="#000">K </text>
<text transform="translate(152.58,969.40) scale(1.0,1.02)" x="0" y="0" font-size="29.5" fill="#000">K</text>
<text transform="translate(648.30,595.30) scale(1.0,1.02)" x="0" y="0" font-size="41.5" font-weight="bold" fill="#000">d</text>
<path d="M738.80,674.70 L888.90,674.70 L945.20,787.70 L888.90,901.20 L738.80,901.20 L682.20,787.70 Z" fill="none" stroke="#000" stroke-width="3" stroke-linejoin="miter"/>
<path d="M1079.80,674.70 L1229.90,674.70 L1286.20,787.70 L1229.90,901.20 L1079.80,901.20 L1023.20,787.70 Z" fill="none" stroke="#000" stroke-width="3" stroke-linejoin="miter"/>
<text transform="translate(732.35,722.10) scale(1.0,1.02)" x="0" y="0" font-size="29.5" fill="#0000d8">−</text>
<rect x="750.90" y="711.65" width="16.20" height="1.3" fill="#0000d8"/>
<path d="M0.261,0 L0.354,0 L0.354,0.688 L0.292,0.688 C0.277,0.630 0.248,0.592 0.203,0.572 C0.168,0.557 0.133,0.554 0.104,0.553 L0.104,0.479 C0.160,0.481 0.225,0.492 0.261,0.522 Z" fill="#0000d8" transform="translate(752.24,701.70) scale(29.5,-30.090)"/>
<text transform="translate(751.40,740.90) scale(1.0,1.02)" x="0" y="0" font-size="29.5" fill="#0000d8">2</text>
<text transform="translate(851.86,721.80) scale(1.0,1.02)" x="0" y="0" font-size="29.5" fill="#e00000">+</text>
<rect x="870.10" y="711.35" width="16.60" height="1.3" fill="#e00000"/>
<path d="M0.261,0 L0.354,0 L0.354,0.688 L0.292,0.688 C0.277,0.630 0.248,0.592 0.203,0.572 C0.168,0.557 0.133,0.554 0.104,0.553 L0.104,0.479 C0.160,0.481 0.225,0.492 0.261,0.522 Z" fill="#e00000" transform="translate(871.64,701.40) scale(29.5,-30.090)"/>
<text transform="translate(870.80,740.60) scale(1.0,1.02)" x="0" y="0" font-size="29.5" fill="#e00000">2</text>
<text transform="translate(693.66,797.80) scale(1.0,1.02)" x="0" y="0" font-size="29.5" fill="#e00000">+</text>
<rect x="712.60" y="787.35" width="16.10" height="1.3" fill="#e00000"/>
<path d="M0.261,0 L0.354,0 L0.354,0.688 L0.292,0.688 C0.277,0.630 0.248,0.592 0.203,0.572 C0.168,0.557 0.133,0.554 0.104,0.553 L0.104,0.479 C0.160,0.481 0.225,0.492 0.261,0.522 Z" fill="#e00000" transform="translate(713.89,777.40) scale(29.5,-30.090)"/>
<text transform="translate(713.05,816.60) scale(1.0,1.02)" x="0" y="0" font-size="29.5" fill="#e00000">2</text>
<text transform="translate(885.75,797.80) scale(1.0,1.02)" x="0" y="0" font-size="29.5" fill="#0000d8">−</text>
<rect x="904.40" y="787.35" width="15.70" height="1.3" fill="#0000d8"/>
<path d="M0.261,0 L0.354,0 L0.354,0.688 L0.292,0.688 C0.277,0.630 0.248,0.592 0.203,0.572 C0.168,0.557 0.133,0.554 0.104,0.553 L0.104,0.479 C0.160,0.481 0.225,0.492 0.261,0.522 Z" fill="#0000d8" transform="translate(905.49,777.40) scale(29.5,-30.090)"/>
<text transform="translate(904.65,816.60) scale(1.0,1.02)" x="0" y="0" font-size="29.5" fill="#0000d8">2</text>
<text transform="translate(732.35,876.30) scale(1.0,1.02)" x="0" y="0" font-size="29.5" fill="#0000d8">−</text>
<rect x="750.90" y="865.85" width="16.20" height="1.3" fill="#0000d8"/>
<path d="M0.261,0 L0.354,0 L0.354,0.688 L0.292,0.688 C0.277,0.630 0.248,0.592 0.203,0.572 C0.168,0.557 0.133,0.554 0.104,0.553 L0.104,0.479 C0.160,0.481 0.225,0.492 0.261,0.522 Z" fill="#0000d8" transform="translate(752.24,855.90) scale(29.5,-30.090)"/>
<text transform="translate(751.40,895.10) scale(1.0,1.02)" x="0" y="0" font-size="29.5" fill="#0000d8">2</text>
<text transform="translate(851.86,876.30) scale(1.0,1.02)" x="0" y="0" font-size="29.5" fill="#e00000">+</text>
<rect x="870.10" y="865.85" width="16.60" height="1.3" fill="#e00000"/>
<path d="M0.261,0 L0.354,0 L0.354,0.688 L0.292,0.688 C0.277,0.630 0.248,0.592 0.203,0.572 C0.168,0.557 0.133,0.554 0.104,0.553 L0.104,0.479 C0.160,0.481 0.225,0.492 0.261,0.522 Z" fill="#e00000" transform="translate(871.64,855.90) scale(29.5,-30.090)"/>
<text transform="translate(870.80,895.10) scale(1.0,1.02)" x="0" y="0" font-size="29.5" fill="#e00000">2</text>
<text transform="translate(1070.26,722.10) scale(1.0,1.02)" x="0" y="0" font-size="29.5" fill="#e00000">+</text>
<rect x="1089.00" y="711.65" width="16.20" height="1.3" fill="#e00000"/>
<path d="M0.261,0 L0.354,0 L0.354,0.688 L0.292,0.688 C0.277,0.630 0.248,0.592 0.203,0.572 C0.168,0.557 0.133,0.554 0.104,0.553 L0.104,0.479 C0.160,0.481 0.225,0.492 0.261,0.522 Z" fill="#e00000" transform="translate(1090.34,701.70) scale(29.5,-30.090)"/>
<text transform="translate(1089.50,740.90) scale(1.0,1.02)" x="0" y="0" font-size="29.5" fill="#e00000">2</text>
<text transform="translate(1192.85,722.10) scale(1.0,1.02)" x="0" y="0" font-size="29.5" fill="#0000d8">−</text>
<rect x="1211.70" y="711.65" width="15.90" height="1.3" fill="#0000d8"/>
<path d="M0.261,0 L0.354,0 L0.354,0.688 L0.292,0.688 C0.277,0.630 0.248,0.592 0.203,0.572 C0.168,0.557 0.133,0.554 0.104,0.553 L0.104,0.479 C0.160,0.481 0.225,0.492 0.261,0.522 Z" fill="#0000d8" transform="translate(1212.89,701.70) scale(29.5,-30.090)"/>
<text transform="translate(1212.05,740.90) scale(1.0,1.02)" x="0" y="0" font-size="29.5" fill="#0000d8">2</text>
<text transform="translate(1041.35,797.70) scale(1.0,1.02)" x="0" y="0" font-size="29.5" fill="#0000d8">−</text>
<rect x="1060.20" y="787.25" width="15.50" height="1.3" fill="#0000d8"/>
<path d="M0.261,0 L0.354,0 L0.354,0.688 L0.292,0.688 C0.277,0.630 0.248,0.592 0.203,0.572 C0.168,0.557 0.133,0.554 0.104,0.553 L0.104,0.479 C0.160,0.481 0.225,0.492 0.261,0.522 Z" fill="#0000d8" transform="translate(1061.19,777.30) scale(29.5,-30.090)"/>
<text transform="translate(1060.35,816.50) scale(1.0,1.02)" x="0" y="0" font-size="29.5" fill="#0000d8">2</text>
<text transform="translate(1228.86,797.70) scale(1.0,1.02)" x="0" y="0" font-size="29.5" fill="#e00000">+</text>
<rect x="1249.10" y="787.25" width="15.90" height="1.3" fill="#e00000"/>
<path d="M0.261,0 L0.354,0 L0.354,0.688 L0.292,0.688 C0.277,0.630 0.248,0.592 0.203,0.572 C0.168,0.557 0.133,0.554 0.104,0.553 L0.104,0.479 C0.160,0.481 0.225,0.492 0.261,0.522 Z" fill="#e00000" transform="translate(1250.29,777.30) scale(29.5,-30.090)"/>
<text transform="translate(1249.45,816.50) scale(1.0,1.02)" x="0" y="0" font-size="29.5" fill="#e00000">2</text>
<text transform="translate(1070.26,876.10) scale(1.0,1.02)" x="0" y="0" font-size="29.5" fill="#e00000">+</text>
<rect x="1089.00" y="865.65" width="16.20" height="1.3" fill="#e00000"/>
<path d="M0.261,0 L0.354,0 L0.354,0.688 L0.292,0.688 C0.277,0.630 0.248,0.592 0.203,0.572 C0.168,0.557 0.133,0.554 0.104,0.553 L0.104,0.479 C0.160,0.481 0.225,0.492 0.261,0.522 Z" fill="#e00000" transform="translate(1090.34,855.70) scale(29.5,-30.090)"/>
<text transform="translate(1089.50,894.90) scale(1.0,1.02)" x="0" y="0" font-size="29.5" fill="#e00000">2</text>
<text transform="translate(1191.55,876.10) scale(1.0,1.02)" x="0" y="0" font-size="29.5" fill="#0000d8">−</text>
<rect x="1211.40" y="865.65" width="16.20" height="1.3" fill="#0000d8"/>
<path d="M0.261,0 L0.354,0 L0.354,0.688 L0.292,0.688 C0.277,0.630 0.248,0.592 0.203,0.572 C0.168,0.557 0.133,0.554 0.104,0.553 L0.104,0.479 C0.160,0.481 0.225,0.492 0.261,0.522 Z" fill="#0000d8" transform="translate(1212.74,855.70) scale(29.5,-30.090)"/>
<text transform="translate(1211.90,894.90) scale(1.0,1.02)" x="0" y="0" font-size="29.5" fill="#0000d8">2</text>
<text transform="translate(706.58,666.00) scale(1.0,1.02)" x="0" y="0" font-size="29.5" fill="#000">K</text>
<path d="M0.040,0.46 L0.085,0.46 L0.215,0.70 L0.125,0.70 Z" fill="#000" transform="translate(914.26,666.00) scale(29.5,-30.090)"/>
<text transform="translate(894.58,666.00) scale(1.0,1.02)" x="0.00 19.68" y="0" font-size="29.5" fill="#000">K </text>
<path d="M0.040,0.46 L0.085,0.46 L0.215,0.70 L0.125,0.70 Z" fill="#000" transform="translate(670.06,798.00) scale(29.5,-30.090)"/>
<text transform="translate(650.38,798.00) scale(1.0,1.02)" x="0.00 19.68" y="0" font-size="29.5" fill="#000">K </text>
<text transform="translate(947.88,798.00) scale(1.0,1.02)" x="0" y="0" font-size="29.5" fill="#000">K</text>
<text transform="translate(706.38,933.70) scale(1.0,1.02)" x="0" y="0" font-size="29.5" fill="#000">K</text>
<path d="M0.040,0.46 L0.085,0.46 L0.215,0.70 L0.125,0.70 Z" fill="#000" transform="translate(914.06,933.70) scale(29.5,-30.090)"/>
<text transform="translate(894.38,933.70) scale(1.0,1.02)" x="0.00 19.68" y="0" font-size="29.5" fill="#000">K </text>
<text transform="translate(1056.58,666.30) scale(1.0,1.02)" x="0" y="0" font-size="29.5" fill="#000">K</text>
<path d="M0.040,0.46 L0.085,0.46 L0.215,0.70 L0.125,0.70 Z" fill="#000" transform="translate(1249.46,666.30) scale(29.5,-30.090)"/>
<text transform="translate(1229.78,666.30) scale(1.0,1.02)" x="0.00 19.68" y="0" font-size="29.5" fill="#000">K </text>
<path d="M0.040,0.46 L0.085,0.46 L0.215,0.70 L0.125,0.70 Z" fill="#000" transform="translate(1007.96,797.60) scale(29.5,-30.090)"/>
<text transform="translate(988.28,797.60) scale(1.0,1.02)" x="0.00 19.68" y="0" font-size="29.5" fill="#000">K </text>
<text transform="translate(1291.08,797.60) scale(1.0,1.02)" x="0" y="0" font-size="29.5" fill="#000">K</text>
<text transform="translate(1056.58,933.60) scale(1.0,1.02)" x="0" y="0" font-size="29.5" fill="#000">K</text>
<path d="M0.040,0.46 L0.085,0.46 L0.215,0.70 L0.125,0.70 Z" fill="#000" transform="translate(1249.26,933.60) scale(29.5,-30.090)"/>
<text transform="translate(1229.58,933.60) scale(1.0,1.02)" x="0.00 19.68" y="0" font-size="29.5" fill="#000">K </text>
<text transform="translate(795.04,803.50) scale(1.0,1.02)" x="0" y="0" font-size="29.5" fill="#b41ee6">A</text>
<text transform="translate(1142.78,804.80) scale(1.0,1.02)" x="0" y="0" font-size="29.5" fill="#648ce6">B</text>
<path d="M767.60,990.50 L782.00,990.50 L782.00,971.30 Z M770.48,988.50 L779.80,976.07 L779.80,988.50 Z" fill="#000" fill-rule="evenodd"/>
<text transform="translate(785.04,998.00) scale(1.0,1.02)" x="0" y="0" font-size="19.5" fill="#000">p</text>
<text transform="translate(829.75,990.80) scale(1.0,1.02)" x="0" y="0" font-size="29.5" fill="#000">0</text>
<path d="M1118.40,990.50 L1132.50,990.50 L1132.50,971.40 Z M1121.24,988.50 L1130.30,976.23 L1130.30,988.50 Z" fill="#000" fill-rule="evenodd"/>
<text transform="translate(1135.84,998.00) scale(1.0,1.02)" x="0" y="0" font-size="19.5" fill="#000">p</text>
<text transform="translate(1178.25,990.80) scale(1.0,1.02)" x="0" y="0" font-size="29.5" fill="#000">0</text>
<text transform="translate(805.05,992.71) scale(1.0,1.02)" x="0" y="0" font-size="29.5" fill="#000">&lt;</text>
<text transform="translate(1152.75,992.71) scale(1.0,1.02)" x="0" y="0" font-size="29.5" fill="#000">&gt;</text>
</svg>
</body></html>
